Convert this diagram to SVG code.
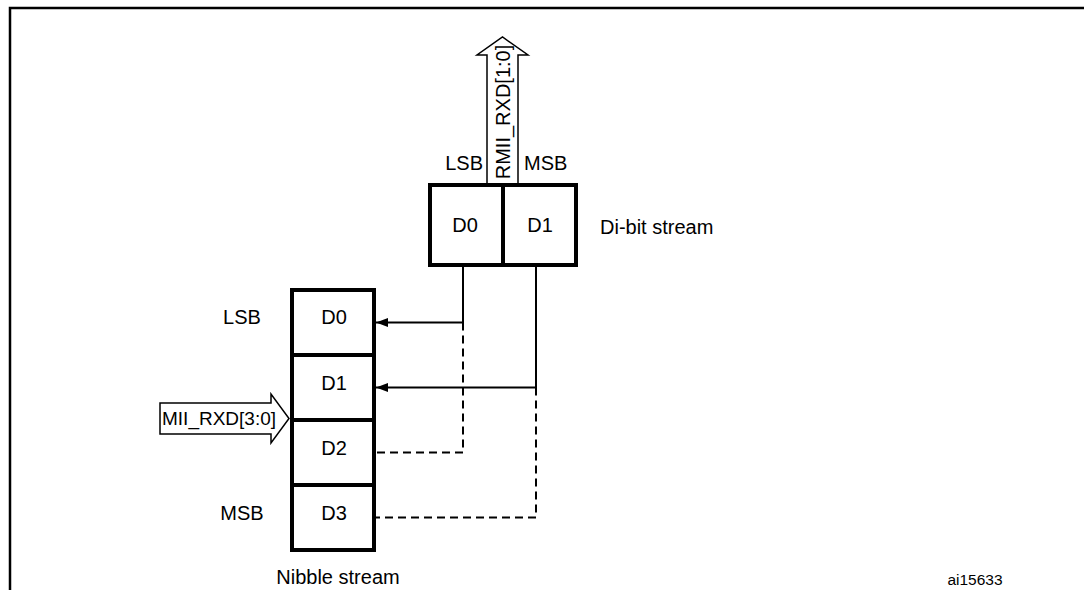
<svg xmlns="http://www.w3.org/2000/svg" width="1084" height="590" viewBox="0 0 1084 590">
<style>
.t{font-family:"Liberation Sans",Arial,sans-serif;font-size:20px;fill:#000}
.m{font-size:19px}
.s{font-size:15.5px}
.box{fill:#fff;stroke:#000;stroke-width:4}
.ln{fill:none;stroke:#000;stroke-width:2}
.dl{fill:none;stroke:#000;stroke-width:2;stroke-dasharray:8 5}
.ar{fill:#fff;stroke:#000;stroke-width:1.5}
</style>
<defs>
<marker id="ah" markerWidth="12" markerHeight="9" refX="12" refY="4.5" orient="auto" markerUnits="userSpaceOnUse">
<path d="M0,0 L12,4.5 L0,9 Z" fill="#000"/>
</marker>
</defs>
<rect width="1084" height="590" fill="#fff"/>
<path d="M10,590 V8 H1084" fill="none" stroke="#000" stroke-width="2.5"/>

<g id="rmii-arrow">
<path class="ar" d="M487,183 V55 H477 L502.5,37 L528,55 H518 V183"/>
<text class="t" transform="translate(509.5,112) rotate(-90)" text-anchor="middle">RMII_RXD[1:0]</text>
<text class="t" x="483" y="170" text-anchor="end">LSB</text>
<text class="t" x="524" y="170">MSB</text>
</g>

<g id="dibit">
<rect class="box" x="430" y="185" width="146" height="80"/>
<line x1="503" y1="185" x2="503" y2="265" stroke="#000" stroke-width="4"/>
<text class="t" x="465" y="232" text-anchor="middle">D0</text>
<text class="t" x="540" y="232" text-anchor="middle">D1</text>
<text class="t" x="600" y="234">Di-bit stream</text>
</g>

<g id="nibble">
<rect class="box" x="292" y="290" width="82" height="260"/>
<line x1="292" y1="355" x2="374" y2="355" stroke="#000" stroke-width="4"/>
<line x1="292" y1="420" x2="374" y2="420" stroke="#000" stroke-width="4"/>
<line x1="292" y1="485" x2="374" y2="485" stroke="#000" stroke-width="4"/>
<text class="t" x="334" y="324" text-anchor="middle">D0</text>
<text class="t" x="334" y="390" text-anchor="middle">D1</text>
<text class="t" x="334" y="455" text-anchor="middle">D2</text>
<text class="t" x="334" y="520" text-anchor="middle">D3</text>
<text class="t" x="242" y="324" text-anchor="middle">LSB</text>
<text class="t" x="242" y="520" text-anchor="middle">MSB</text>
<text class="t" x="338" y="584" text-anchor="middle">Nibble stream</text>
</g>

<g id="mii-arrow">
<path class="ar" d="M160,403 H271 V394 L289,418.5 L271,443 V434 H160 Z"/>
<text class="t m" x="162" y="425">MII_RXD[3:0]</text>
</g>

<g id="connectors">
<path class="ln" d="M463,267 V322.5 H376" marker-end="url(#ah)"/>
<path class="ln" d="M536,267 V387.5 H376" marker-end="url(#ah)"/>
<path class="dl" d="M463,322.5 V452.5 H376"/>
<path class="dl" d="M536,387.5 V517.5 H376"/>
</g>

<text class="t s" x="975" y="585" text-anchor="middle">ai15633</text>
</svg>
